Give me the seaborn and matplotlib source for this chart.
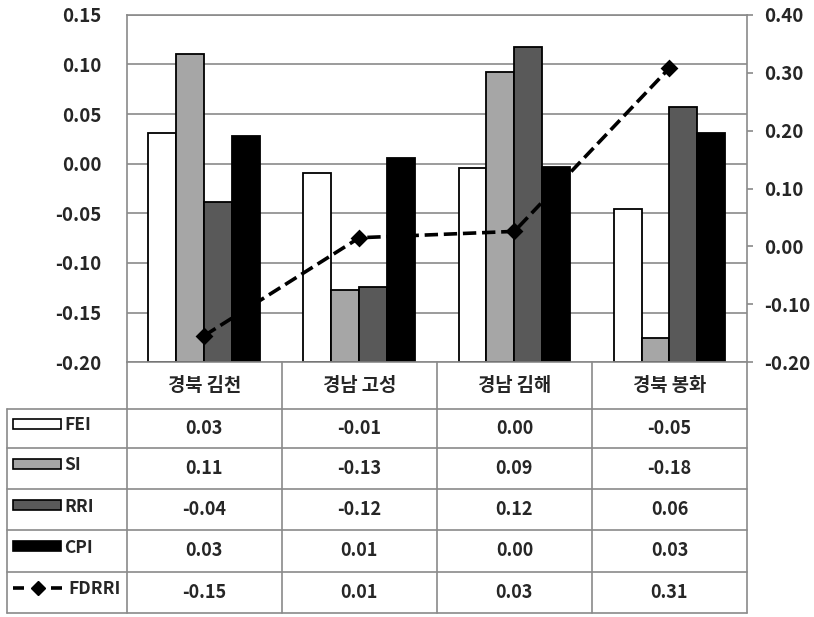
import matplotlib
matplotlib.use("Agg")
import matplotlib.pyplot as plt
import matplotlib.transforms as mtransforms
from matplotlib.patches import Rectangle
from matplotlib.ticker import FuncFormatter
import numpy as np
import pandas as pd
import seaborn as sns

# Data
regions = ["경북 김천", "경남 고성", "경남 김해", "경북 봉화"]
fei = [0.031, -0.009, -0.004, -0.046]
si = [0.110, -0.127, 0.092, -0.176]
rri = [-0.039, -0.124, 0.117, 0.057]
cpi = [0.028, 0.006, -0.003, 0.031]
fdrri = [-0.154, 0.015, 0.026, 0.308]

bar_names = ["FEI", "SI", "RRI", "CPI"]
bar_colors = ["#ffffff", "#a6a6a6", "#595959", "#000000"]
grid_col = "#8a8a8a"

sns.set_theme(style="white")
plt.rcParams["font.family"] = ["Noto Sans CJK KR", "DejaVu Sans"]
plt.rcParams["font.weight"] = "bold"
plt.rcParams["axes.unicode_minus"] = False


def fmt(v, pos=None):
    s = f"{v:.2f}"
    return "0.00" if s == "-0.00" else s


df = pd.DataFrame({"region": regions * 4,
                   "index": [n for n in bar_names for _ in regions],
                   "value": fei + si + rri + cpi})

W, H = 814, 617
fig = plt.figure(figsize=(W / 100, H / 100), dpi=100)
ax = fig.add_axes([126.7 / W, 1 - 362.3 / H, (747 - 126.7) / W, (362.3 - 14.7) / H])

base = -0.20
sns.barplot(data=df, x="region", y="value", hue="index", order=regions,
            hue_order=bar_names, palette=bar_colors, width=0.72, gap=0,
            edgecolor="black", linewidth=1.3, saturation=1, legend=False, ax=ax)
# Excel draws the bars up from the axis floor, not from zero
for p in ax.patches:
    top = p.get_y() + p.get_height()
    p.set_y(base)
    p.set_height(top - base)

ax.set_ylim(base, 0.15)
ax.set_yticks(np.round(np.arange(-0.20, 0.151, 0.05), 2))
ax.yaxis.set_major_formatter(FuncFormatter(fmt))
ax.yaxis.grid(True, color=grid_col, linewidth=1.2)
ax.set_axisbelow(True)
ax.tick_params(axis="y", length=0, pad=18, labelsize=13.5)
ax.tick_params(axis="x", length=0, labelbottom=False)
ax.set_xlabel("")
ax.set_ylabel("")
for s in ax.spines.values():
    s.set_color(grid_col)
    s.set_linewidth(1.2)

# FDRRI on the secondary axis
ax2 = ax.twinx()
sns.pointplot(x=regions, y=fdrri, order=regions, ax=ax2, color="black",
              marker="D", markersize=7, linestyle="--", linewidth=2.6,
              errorbar=None)
ax2.set_ylim(-0.20, 0.40)
ax2.set_yticks(np.round(np.arange(-0.20, 0.401, 0.10), 2))
ax2.yaxis.set_major_formatter(FuncFormatter(fmt))
ax2.grid(False)
ax2.tick_params(axis="y", direction="out", length=4, width=1.2, color=grid_col,
                pad=8, labelsize=13.5)
ax2.set_ylabel("")
ax2.set_xlim(-0.5, 3.5)
ax.set_xlim(-0.5, 3.5)
for s in ax2.spines.values():
    s.set_visible(False)

# Data table under the plot
tax = fig.add_axes([0, 0, 1, 1])
tax.set_xlim(0, W)
tax.set_ylim(H, 0)
tax.axis("off")
blend = mtransforms.blended_transform_factory(ax.transData, tax.transData)

hdr_top, hdr_bot = 362.3, 408.5
row_edges = [408.5, 447.7, 489.0, 530.2, 571.5, 613.0]
left_x, right_x = 6.7, 747.0

for xb in np.arange(-0.5, 3.6, 1.0):
    tax.plot([xb, xb], [hdr_top, row_edges[-1]], color=grid_col, lw=1.2, transform=blend)
tax.plot([left_x, left_x], [row_edges[0], row_edges[-1]], color=grid_col, lw=1.2)
for yb in row_edges:
    tax.plot([left_x, right_x], [yb, yb], color=grid_col, lw=1.2)

hdr_mid = (hdr_top + hdr_bot) / 2
for i, r in enumerate(regions):
    tax.text(i, hdr_mid, r, ha="center", va="center", fontsize=13.5,
             fontweight="bold", transform=blend)

series = [fei, si, rri, cpi, fdrri]
labels = bar_names + ["FDRRI"]
for k, (vals, lab) in enumerate(zip(series, labels)):
    yc = (row_edges[k] + row_edges[k + 1]) / 2
    for i, v in enumerate(vals):
        tax.text(i, yc, fmt(v), ha="center", va="center", fontsize=13,
                 fontweight="bold", transform=blend)
    # legend key
    if k < 4:
        tax.add_patch(Rectangle((13.3, yc - 9.5), 47.7, 10, facecolor=bar_colors[k],
                                edgecolor="black", linewidth=1.2))
        tax.text(64.5, yc - 3, lab, ha="left", va="center", fontsize=12.5, fontweight="bold")
    else:
        ky = yc - 4
        tax.plot([13, 24], [ky, ky], color="black", lw=2.6, solid_capstyle="butt")
        tax.plot([51, 62], [ky, ky], color="black", lw=2.6, solid_capstyle="butt")
        tax.plot([37.5], [ky], marker="D", color="black", markersize=7)
        tax.text(68, yc - 3, lab, ha="left", va="center", fontsize=12.5, fontweight="bold")

fig.savefig("out.png", dpi=100)
